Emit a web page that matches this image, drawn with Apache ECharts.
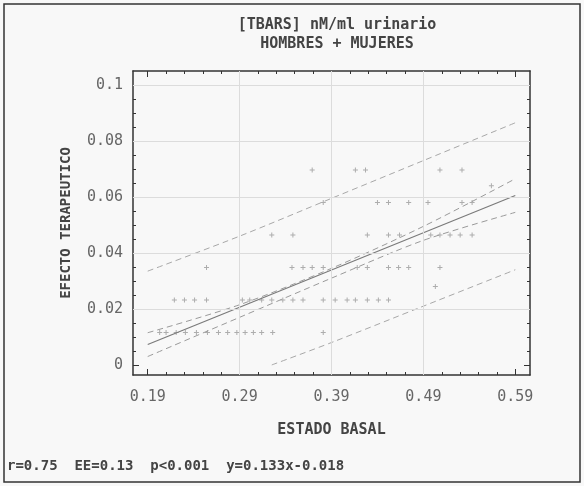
<!DOCTYPE html>
<html>
<head>
<meta charset="utf-8">
<script src="https://cdn.jsdelivr.net/npm/echarts@6/dist/echarts.min.js"></script>
<style>
  html, body { margin: 0; padding: 0; background: #f8f8f8; }
  #chart { width: 584px; height: 486px; }
</style>
</head>
<body>
<div id="chart"></div>
<script>
// tick labels
var ticksX = [0.19, 0.29, 0.39, 0.49, 0.59];
var ticksY = [0, 0.02, 0.04, 0.06, 0.08, 0.1];

// points: each level of EFECTO TERAPEUTICO with its ESTADO BASAL values
var niveles = [0.0116, 0.0232, 0.0348, 0.0464, 0.058, 0.0696];
var basalPorNivel = [
  [0.203, 0.210, 0.221, 0.231, 0.243, 0.255, 0.267, 0.277, 0.287, 0.296, 0.305, 0.314, 0.326, 0.381],
  [0.219, 0.230, 0.241, 0.254, 0.293, 0.301, 0.314, 0.325, 0.337, 0.348, 0.359, 0.381, 0.394, 0.407, 0.416, 0.429, 0.441, 0.452],
  [0.254, 0.347, 0.359, 0.369, 0.381, 0.418, 0.429, 0.452, 0.463, 0.474, 0.508],
  [0.325, 0.348, 0.429, 0.452, 0.464, 0.498, 0.508, 0.519, 0.530, 0.543],
  [0.381, 0.440, 0.452, 0.474, 0.495, 0.532, 0.543],
  [0.369, 0.416, 0.427, 0.508, 0.532]
];
var otrosPuntos = [[0.564, 0.064], [0.503, 0.028]];

// regression line y = 0.133x - 0.018 and the bands around it
var recta = [[0.19, 0.0073], [0.59, 0.0605]];
var bandaSup = [[0.19, 0.0115], [0.29, 0.0215], [0.39, 0.0345], [0.49, 0.0495], [0.59, 0.0665]];
var bandaInf = [[0.19, 0.003], [0.29, 0.017], [0.39, 0.031], [0.49, 0.0445], [0.59, 0.0545]];
var predSup = [[0.19, 0.0335], [0.29, 0.046], [0.39, 0.0595], [0.49, 0.073], [0.59, 0.0865]];
var predInf = [[0.325, 0], [0.39, 0.008], [0.49, 0.021], [0.59, 0.034]];

var minX = 0.174, maxX = 0.606, minY = -0.0036, maxY = 0.105;

var minorX = [];
for (var i = 0; i < 22; i++) {
  var v = +(0.19 + 0.02 * i).toFixed(3);
  if (v < maxX && i % 5 != 0) minorX.push(v);
}
var minorY = [];
for (var j = 1; j < 21; j++) {
  if (j % 4 != 0) minorY.push(+(0.005 * j).toFixed(3));
}

var puntos = [];
niveles.forEach(function (y, k) {
  basalPorNivel[k].forEach(function (x) { puntos.push([x, y]); });
});
otrosPuntos.forEach(function (p) { puntos.push(p); });

var fuente = 'DejaVu Sans Mono';
var gris = '#444';

function ejeX(pos, vals, len, conLinea, conLabel) {
  return {
    type: 'value', position: pos, min: minX, max: maxX,
    name: conLabel ? 'ESTADO BASAL' : '',
    nameLocation: 'middle', nameGap: 48,
    nameTextStyle: { fontFamily: fuente, fontSize: 15, fontWeight: 'bold', color: gris },
    axisLine: { show: conLinea, onZero: false, lineStyle: { color: '#333', width: 1.5 } },
    axisTick: { show: true, inside: true, length: len, customValues: vals, lineStyle: { color: '#333' } },
    axisLabel: { show: conLabel, customValues: ticksX, margin: 15, fontFamily: fuente, fontSize: 15, color: '#666' },
    splitLine: { show: false }
  };
}
function ejeY(pos, vals, len, conLinea, conLabel) {
  return {
    type: 'value', position: pos, min: minY, max: maxY,
    name: conLabel ? 'EFECTO TERAPEUTICO' : '',
    nameLocation: 'middle', nameGap: 60, nameRotate: 90,
    nameTextStyle: { fontFamily: fuente, fontSize: 14, fontWeight: 'bold', color: gris },
    axisLine: { show: conLinea, onZero: false, lineStyle: { color: '#333', width: 1.5 } },
    axisTick: { show: true, inside: true, length: len, customValues: vals, lineStyle: { color: '#333' } },
    axisLabel: { show: conLabel, customValues: ticksY, margin: 10, fontFamily: fuente, fontSize: 15, color: '#666' },
    splitLine: { show: false }
  };
}

var option = {
  backgroundColor: '#f8f8f8',
  animation: false,
  title: {
    text: '[TBARS] nM/ml urinario',
    subtext: 'HOMBRES + MUJERES',
    left: 332, top: 13, textAlign: 'center', itemGap: 4,
    textStyle: { fontFamily: fuente, fontSize: 15, fontWeight: 'bold', color: gris },
    subtextStyle: { fontFamily: fuente, fontSize: 15, fontWeight: 'bold', color: gris }
  },
  grid: { left: 133, top: 71, right: 54, bottom: 111 },
  xAxis: [
    ejeX('bottom', ticksX, 6, true, true),
    ejeX('bottom', minorX, 3, false, false),
    ejeX('top', ticksX, 6, true, false),
    ejeX('top', minorX, 3, false, false)
  ],
  yAxis: [
    ejeY('left', ticksY, 6, true, true),
    ejeY('left', minorY, 3, false, false),
    ejeY('right', ticksY, 6, true, false),
    ejeY('right', minorY, 3, false, false)
  ],
  graphic: [
    { type: 'rect', shape: { x: 4, y: 4, width: 576, height: 478 },
      style: { fill: null, stroke: '#333', lineWidth: 1.5 } },
    { type: 'text', left: 7, top: 459,
      style: { text: 'r=0.75  EE=0.13  p<0.001  y=0.133x-0.018', fontFamily: fuente, fontSize: 14, fontWeight: 'bold', fill: gris } }
  ],
  series: [
    {
      type: 'line', data: [], silent: true,
      markLine: {
        silent: true, symbol: 'none', label: { show: false },
        lineStyle: { color: '#dcdcdc', type: 'solid', width: 1 },
        data: [
          { xAxis: 0.29 }, { xAxis: 0.39 }, { xAxis: 0.49 },
          { yAxis: 0.02 }, { yAxis: 0.04 }, { yAxis: 0.06 }, { yAxis: 0.08 }, { yAxis: 0.1 }
        ]
      }
    },
    {
      type: 'scatter', data: puntos, symbol: 'path://M4,0H6V4H10V6H6V10H4V6H0V4H4Z',
      symbolSize: 5, itemStyle: { color: '#9a9a9a' }, silent: true
    },
    { type: 'line', data: recta, symbol: 'none', lineStyle: { color: '#7a7a7a', width: 1.2 } },
    { type: 'line', data: bandaSup, symbol: 'none', smooth: 0.3, lineStyle: { color: '#9a9a9a', width: 1, type: [6, 4] } },
    { type: 'line', data: bandaInf, symbol: 'none', smooth: 0.3, lineStyle: { color: '#9a9a9a', width: 1, type: [6, 4] } },
    { type: 'line', data: predSup, symbol: 'none', smooth: 0.3, lineStyle: { color: '#a8a8a8', width: 1, type: [6, 4] } },
    { type: 'line', data: predInf, symbol: 'none', smooth: 0.3, lineStyle: { color: '#a8a8a8', width: 1, type: [6, 4] } }
  ]
};

echarts.init(document.getElementById('chart')).setOption(option);
</script>
</body>
</html>
